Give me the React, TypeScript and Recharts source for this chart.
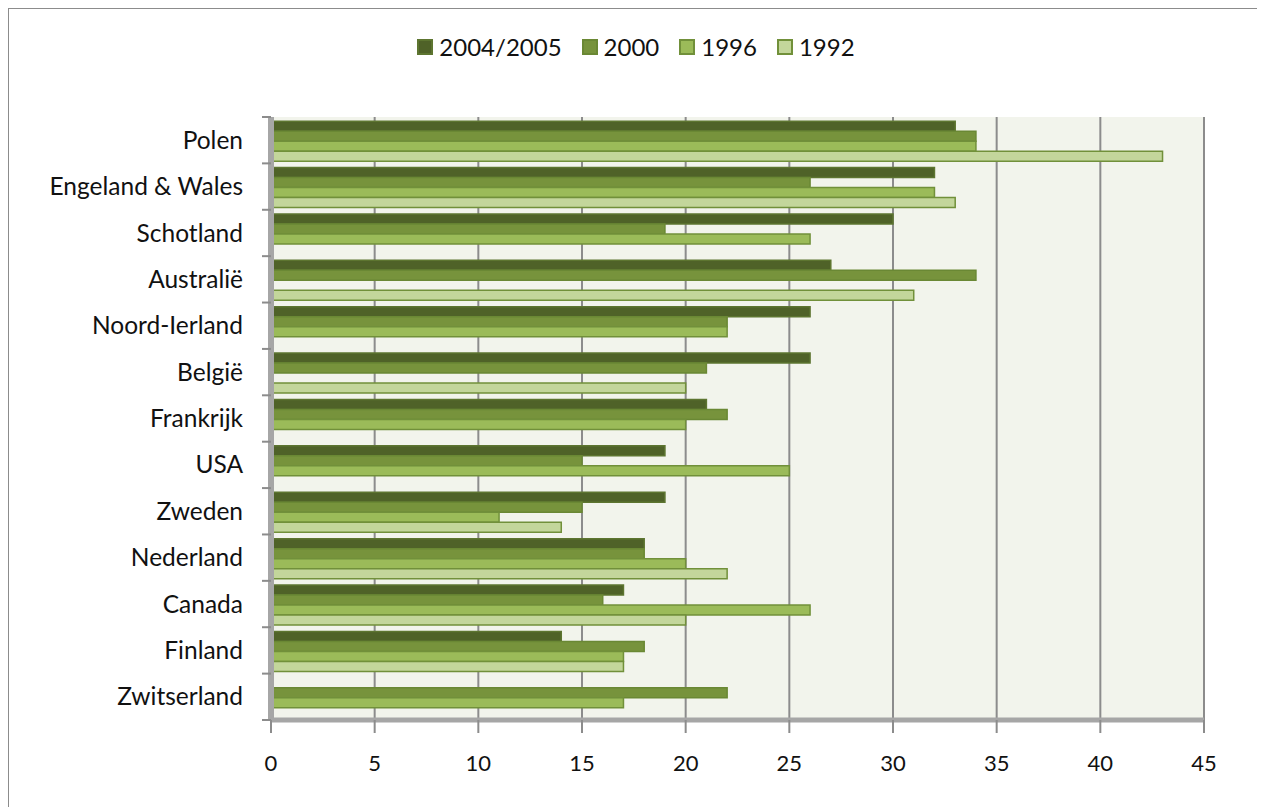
import React from "react";
import { BarChart, Bar, XAxis, YAxis, CartesianGrid } from "recharts";

const countries = [
  "Polen", "Engeland & Wales", "Schotland", "Australië", "Noord-Ierland", "België",
  "Frankrijk", "USA", "Zweden", "Nederland", "Canada", "Finland", "Zwitserland",
];
const v2004 = [33, 32, 30, 27, 26, 26, 21, 19, 19, 18, 17, 14, null];
const v2000 = [34, 26, 19, 34, 22, 21, 22, 15, 15, 18, 16, 18, 22];
const v1996 = [34, 32, 26, null, 22, null, 20, 25, 11, 20, 26, 17, 17];
const v1992 = [43, 33, null, 31, null, 20, null, null, 14, 22, 20, 17, null];
const xTicks = [0, 5, 10, 15, 20, 25, 30, 35, 40, 45];

const series = [
  { key: "y2004", name: "2004/2005", color: "#4f6228", stroke: "#5d7530" },
  { key: "y2000", name: "2000", color: "#77933c", stroke: "#6a8834" },
  { key: "y1996", name: "1996", color: "#9bbb59", stroke: "#71903a" },
  { key: "y1992", name: "1992", color: "#c3d69b", stroke: "#71903a" },
];

const data = countries.map((c, i) => ({
  country: c,
  y2004: v2004[i],
  y2000: v2000[i],
  y1996: v1996[i],
  y1992: v1992[i],
}));

const FONT = "Lato, 'Open Sans', sans-serif";
const PLOT_TOP = 108;
const PLOT_BOTTOM = 711;
const BAND = (PLOT_BOTTOM - PLOT_TOP) / countries.length;
const AXIS_X = 262;

function CountryTick(props: any) {
  const { x, y, payload, index } = props;
  return (
    <g>
      <line x1={AXIS_X - 9} x2={AXIS_X} y1={y - BAND / 2} y2={y - BAND / 2} stroke="#8c8c8c" strokeWidth={2} />
      {index === countries.length - 1 && (
        <line x1={AXIS_X - 9} x2={AXIS_X} y1={y + BAND / 2} y2={y + BAND / 2} stroke="#8c8c8c" strokeWidth={2} />
      )}
      <text x={x} y={y} dy="0.35em" textAnchor="end" fill="#111" fontSize={24.5} fontFamily={FONT}>
        {payload.value}
      </text>
    </g>
  );
}

function TopLegend() {
  return (
    <div
      style={{
        position: "absolute", top: 23, left: 0, width: 1254,
        display: "flex", justifyContent: "center", gap: 20,
        fontFamily: FONT, fontSize: 24, color: "#111",
      }}
    >
      {series.map((s) => (
        <div key={s.key} style={{ display: "flex", alignItems: "center", gap: 6 }}>
          <span style={{ width: 12, height: 12, background: s.color, border: `2px solid ${s.stroke}`, display: "inline-block" }} />
          <span>{s.name}</span>
        </div>
      ))}
    </div>
  );
}

export default function App() {
  return (
    <div style={{ width: 1254, height: 810, border: "1px solid #8c8c8c", background: "#fff", position: "relative" }}>
      <TopLegend />
      <BarChart
        width={1254}
        height={790}
        data={data}
        layout="vertical"
        margin={{ top: PLOT_TOP, right: 59, bottom: 39, left: 0 }}
        barCategoryGap="9%"
        barGap={0}
      >
        <CartesianGrid horizontal={false} stroke="#8c8c8c" strokeWidth={2} fill="#f2f4ec" />
        <XAxis
          type="number"
          domain={[0, 45]}
          ticks={xTicks}
          axisLine={{ stroke: "#a6a6a6", strokeWidth: 5 }}
          tickLine={{ stroke: "#8c8c8c", strokeWidth: 2 }}
          tickSize={13}
          tickMargin={22}
          height={40}
          tick={{ fill: "#111", fontSize: 22, fontFamily: FONT }}
        />
        <YAxis
          type="category"
          dataKey="country"
          width={262}
          axisLine={{ stroke: "#a6a6a6", strokeWidth: 6 }}
          tickLine={false}
          tickMargin={28}
          tickSize={0}
          interval={0}
          tick={<CountryTick />}
        />
        {series.map((s) => (
          <Bar
            key={s.key}
            dataKey={s.key}
            name={s.name}
            fill={s.color}
            stroke={s.stroke}
            strokeWidth={1.5}
            isAnimationActive={false}
          />
        ))}
      </BarChart>
    </div>
  );
}
